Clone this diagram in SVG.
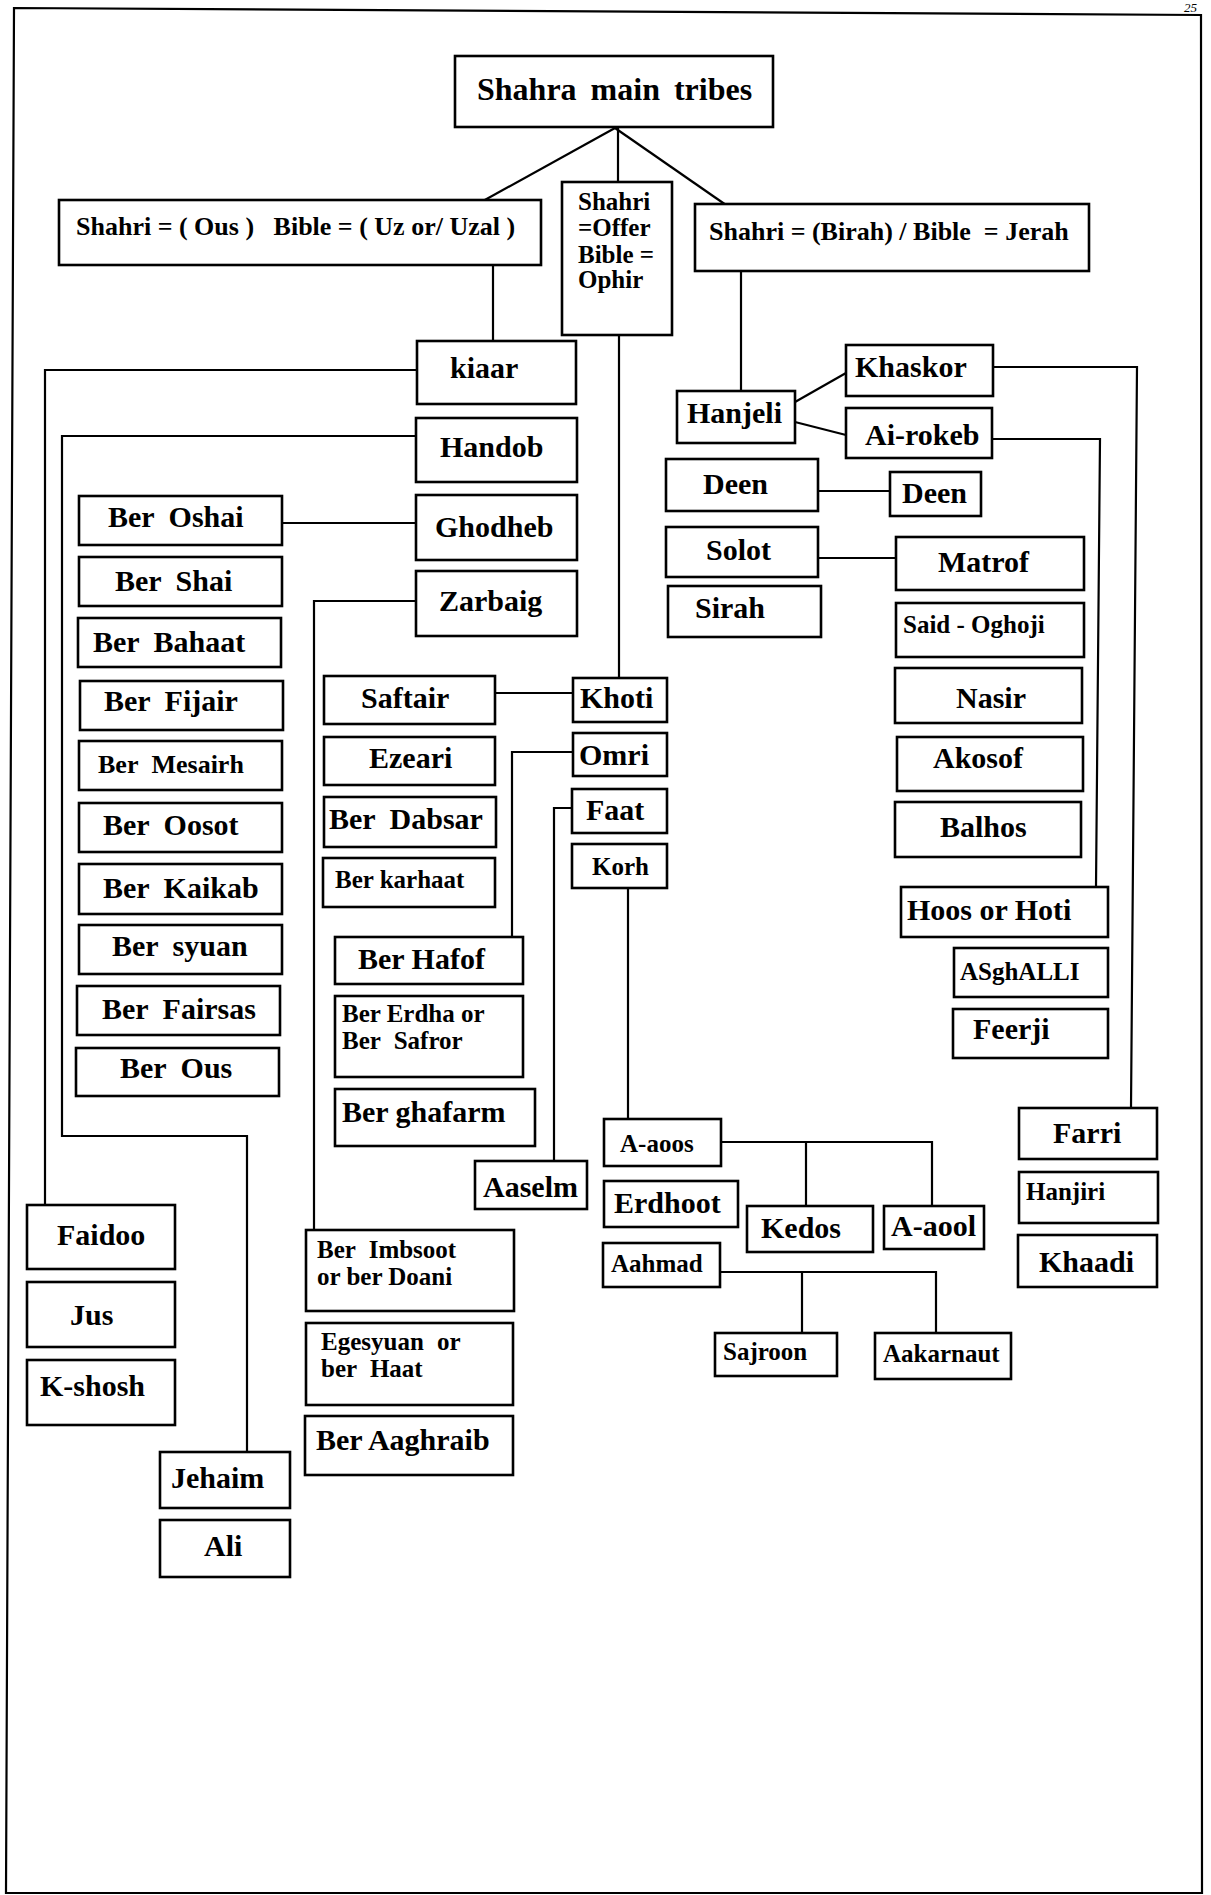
<svg xmlns="http://www.w3.org/2000/svg" width="1211" height="1895" viewBox="0 0 1211 1895">
<style>
  .n rect { fill: #fff; stroke: #000; stroke-width: 2.6; }
  .n text { font-family: "Liberation Serif", "Times New Roman", serif; font-weight: bold; font-size: 30px; fill: #000; }
  .n text.s { font-size: 25px; }
  .n text.w { word-spacing: 7px; }
  .c line, .c polyline { fill: none; stroke: #000; stroke-width: 2.2; }
  .page { fill: none; stroke: #000; stroke-width: 2.2; }
</style>
<rect x="0" y="0" width="1211" height="1895" fill="#fff"/>
<polygon class="page" points="14,8 1201,15 1202,1893 6,1893"/>
<text x="1184" y="12" font-family="Liberation Serif, serif" font-style="italic" font-size="13">25</text>

<g class="c" id="connectors">
  <line x1="615" y1="128" x2="483" y2="201"/>
  <line x1="618" y1="128" x2="618" y2="182"/>
  <line x1="615" y1="128" x2="726" y2="205"/>
  <line x1="493" y1="265" x2="493" y2="341"/>
  <polyline points="417,370 45,370 45,1205"/>
  <polyline points="416,436 62,436 62,1136 247,1136 247,1452"/>
  <line x1="282" y1="523" x2="416" y2="523"/>
  <polyline points="416,601 314,601 314,1230"/>
  <line x1="619" y1="335" x2="619" y2="678"/>
  <line x1="495" y1="693" x2="573" y2="693"/>
  <polyline points="573,752 512,752 512,937"/>
  <polyline points="572,808 554,808 554,1161"/>
  <line x1="628" y1="888" x2="628" y2="1119"/>
  <polyline points="721,1142 932,1142 932,1206"/>
  <line x1="806" y1="1142" x2="806" y2="1206"/>
  <polyline points="720,1272 936,1272 936,1333"/>
  <line x1="802" y1="1272" x2="802" y2="1333"/>
  <line x1="741" y1="271" x2="741" y2="391"/>
  <line x1="795" y1="402" x2="846" y2="373"/>
  <line x1="795" y1="422" x2="846" y2="435"/>
  <polyline points="993,367 1137,367 1131,1108"/>
  <polyline points="992,439 1100,439 1096,887"/>
  <line x1="818" y1="491" x2="890" y2="491"/>
  <line x1="818" y1="558" x2="896" y2="558"/>
</g>

<g class="n" id="root"><rect x="455" y="56" width="318" height="71"/><text x="477" y="100" style="font-size:32px;word-spacing:6px">Shahra main tribes</text></g>
<g class="n" id="ous"><rect x="59" y="200" width="482" height="65"/><text x="76" y="235" style="font-size:26px" xml:space="preserve">Shahri = ( Ous )   Bible = ( Uz or/ Uzal )</text></g>
<g class="n" id="ophir"><rect x="562" y="182" width="110" height="153"/>
  <text x="578" y="210" style="font-size:25px">Shahri</text>
  <text x="578" y="236" style="font-size:25px">=Offer</text>
  <text x="578" y="263" style="font-size:25px">Bible =</text>
  <text x="578" y="288" style="font-size:25px">Ophir</text></g>
<g class="n" id="jerah"><rect x="695" y="204" width="394" height="67"/><text x="709" y="240" style="font-size:26px" xml:space="preserve">Shahri = (Birah) / Bible  = Jerah</text></g>

<g class="n" id="kiaar"><rect x="417" y="341" width="159" height="63"/><text x="450" y="378">kiaar</text></g>
<g class="n" id="handob"><rect x="416" y="418" width="161" height="64"/><text x="440" y="457">Handob</text></g>
<g class="n" id="ghodheb"><rect x="416" y="495" width="161" height="65"/><text x="435" y="537">Ghodheb</text></g>
<g class="n" id="zarbaig"><rect x="416" y="571" width="161" height="65"/><text x="439" y="611">Zarbaig</text></g>

<g class="n" id="ber-oshai"><rect x="79" y="496" width="203" height="49"/><text class="w" x="108" y="527">Ber Oshai</text></g>
<g class="n" id="ber-shai"><rect x="79" y="557" width="203" height="49"/><text class="w" x="115" y="591">Ber Shai</text></g>
<g class="n" id="ber-bahaat"><rect x="78" y="618" width="203" height="49"/><text class="w" x="93" y="652">Ber Bahaat</text></g>
<g class="n" id="ber-fijair"><rect x="80" y="681" width="203" height="49"/><text class="w" x="104" y="711">Ber Fijair</text></g>
<g class="n" id="ber-mesairh"><rect x="79" y="741" width="203" height="49"/><text class="w" x="98" y="773" style="font-size:26px">Ber Mesairh</text></g>
<g class="n" id="ber-oosot"><rect x="79" y="803" width="203" height="49"/><text class="w" x="103" y="835">Ber Oosot</text></g>
<g class="n" id="ber-kaikab"><rect x="79" y="864" width="203" height="50"/><text class="w" x="103" y="898">Ber Kaikab</text></g>
<g class="n" id="ber-syuan"><rect x="79" y="925" width="203" height="49"/><text class="w" x="112" y="956">Ber syuan</text></g>
<g class="n" id="ber-fairsas"><rect x="77" y="986" width="203" height="49"/><text class="w" x="102" y="1019">Ber Fairsas</text></g>
<g class="n" id="ber-ous"><rect x="76" y="1048" width="203" height="48"/><text class="w" x="120" y="1078">Ber Ous</text></g>

<g class="n" id="saftair"><rect x="324" y="676" width="171" height="48"/><text x="361" y="708">Saftair</text></g>
<g class="n" id="ezeari"><rect x="324" y="737" width="171" height="48"/><text x="369" y="768">Ezeari</text></g>
<g class="n" id="ber-dabsar"><rect x="324" y="797" width="172" height="50"/><text class="w" x="329" y="829">Ber Dabsar</text></g>
<g class="n" id="ber-karhaat"><rect x="323" y="858" width="172" height="49"/><text class="s" x="335" y="888">Ber karhaat</text></g>
<g class="n" id="ber-hafof"><rect x="335" y="937" width="188" height="47"/><text x="358" y="969">Ber Hafof</text></g>
<g class="n" id="ber-erdha"><rect x="335" y="996" width="188" height="81"/><text class="s" x="342" y="1022">Ber Erdha or</text><text class="s w" x="342" y="1049">Ber Safror</text></g>
<g class="n" id="ber-ghafarm"><rect x="335" y="1089" width="200" height="57"/><text x="342" y="1122">Ber ghafarm</text></g>
<g class="n" id="aaselm"><rect x="475" y="1161" width="112" height="48"/><text x="483" y="1197">Aaselm</text></g>
<g class="n" id="ber-imbsoot"><rect x="306" y="1230" width="208" height="81"/><text class="s w" x="317" y="1258">Ber Imbsoot</text><text class="s" x="317" y="1285">or ber Doani</text></g>
<g class="n" id="egesyuan"><rect x="306" y="1323" width="207" height="82"/><text class="s w" x="321" y="1350">Egesyuan or</text><text class="s w" x="321" y="1377">ber Haat</text></g>
<g class="n" id="ber-aaghraib"><rect x="305" y="1416" width="208" height="59"/><text x="316" y="1450">Ber Aaghraib</text></g>

<g class="n" id="faidoo"><rect x="27" y="1205" width="148" height="64"/><text x="57" y="1245">Faidoo</text></g>
<g class="n" id="jus"><rect x="27" y="1282" width="148" height="65"/><text x="70" y="1325">Jus</text></g>
<g class="n" id="k-shosh"><rect x="27" y="1360" width="148" height="65"/><text x="40" y="1396">K-shosh</text></g>
<g class="n" id="jehaim"><rect x="160" y="1452" width="130" height="56"/><text x="171" y="1488">Jehaim</text></g>
<g class="n" id="ali"><rect x="160" y="1520" width="130" height="57"/><text x="204" y="1556">Ali</text></g>

<g class="n" id="khoti"><rect x="573" y="678" width="94" height="44"/><text x="580" y="708">Khoti</text></g>
<g class="n" id="omri"><rect x="573" y="733" width="94" height="43"/><text x="579" y="765">Omri</text></g>
<g class="n" id="faat"><rect x="572" y="789" width="95" height="44"/><text x="586" y="820">Faat</text></g>
<g class="n" id="korh"><rect x="572" y="844" width="95" height="44"/><text class="s" x="592" y="875">Korh</text></g>
<g class="n" id="a-aoos"><rect x="604" y="1119" width="117" height="47"/><text class="s" x="620" y="1152">A-aoos</text></g>
<g class="n" id="erdhoot"><rect x="604" y="1181" width="134" height="46"/><text x="614" y="1213">Erdhoot</text></g>
<g class="n" id="kedos"><rect x="747" y="1206" width="126" height="46"/><text x="761" y="1238">Kedos</text></g>
<g class="n" id="a-aool"><rect x="884" y="1206" width="100" height="43"/><text x="891" y="1236">A-aool</text></g>
<g class="n" id="aahmad"><rect x="603" y="1243" width="117" height="44"/><text class="s" x="611" y="1272">Aahmad</text></g>
<g class="n" id="sajroon"><rect x="715" y="1333" width="122" height="43"/><text class="s" x="723" y="1360">Sajroon</text></g>
<g class="n" id="aakarnaut"><rect x="875" y="1333" width="136" height="46"/><text class="s" x="883" y="1362">Aakarnaut</text></g>

<g class="n" id="hanjeli"><rect x="677" y="391" width="118" height="52"/><text x="687" y="423">Hanjeli</text></g>
<g class="n" id="khaskor"><rect x="846" y="345" width="147" height="51"/><text x="855" y="377">Khaskor</text></g>
<g class="n" id="ai-rokeb"><rect x="846" y="408" width="146" height="50"/><text x="865" y="445">Ai-rokeb</text></g>
<g class="n" id="deen-1"><rect x="666" y="459" width="152" height="52"/><text x="703" y="494">Deen</text></g>
<g class="n" id="deen-2"><rect x="890" y="472" width="91" height="44"/><text x="902" y="503">Deen</text></g>
<g class="n" id="solot"><rect x="666" y="527" width="152" height="50"/><text x="706" y="560">Solot</text></g>
<g class="n" id="sirah"><rect x="668" y="586" width="153" height="51"/><text x="695" y="618">Sirah</text></g>
<g class="n" id="matrof"><rect x="896" y="537" width="188" height="53"/><text x="938" y="572">Matrof</text></g>
<g class="n" id="said-oghoji"><rect x="896" y="603" width="188" height="54"/><text class="s" x="903" y="633">Said - Oghoji</text></g>
<g class="n" id="nasir"><rect x="895" y="668" width="187" height="55"/><text x="956" y="708">Nasir</text></g>
<g class="n" id="akosof"><rect x="897" y="737" width="186" height="54"/><text x="933" y="768">Akosof</text></g>
<g class="n" id="balhos"><rect x="895" y="802" width="186" height="55"/><text x="940" y="837">Balhos</text></g>
<g class="n" id="hoos-or-hoti"><rect x="901" y="887" width="207" height="50"/><text x="907" y="920">Hoos or Hoti</text></g>
<g class="n" id="asghalli"><rect x="954" y="948" width="154" height="49"/><text class="s" x="960" y="980">ASghALLI</text></g>
<g class="n" id="feerji"><rect x="953" y="1009" width="155" height="49"/><text x="973" y="1039">Feerji</text></g>
<g class="n" id="farri"><rect x="1019" y="1108" width="138" height="51"/><text x="1053" y="1143">Farri</text></g>
<g class="n" id="hanjiri"><rect x="1019" y="1172" width="139" height="51"/><text class="s" x="1026" y="1200">Hanjiri</text></g>
<g class="n" id="khaadi"><rect x="1018" y="1235" width="139" height="52"/><text x="1039" y="1272">Khaadi</text></g>
</svg>
